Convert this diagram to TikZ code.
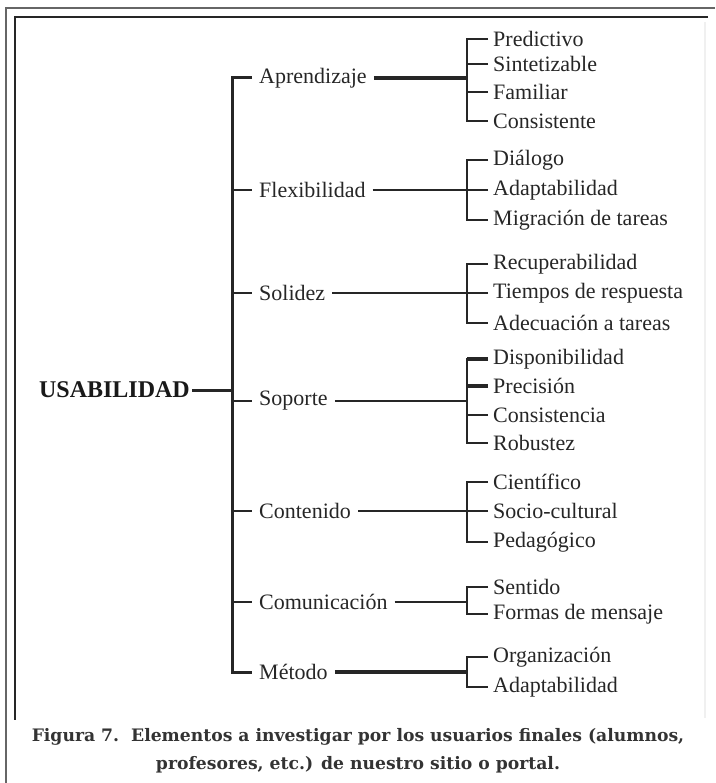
\documentclass[tikz,border=0pt]{standalone}
\usepackage{fontspec}
\setmainfont{Liberation Serif}
\newfontfamily\capfont{DejaVu Serif}
\begin{document}
\begin{tikzpicture}[x=1pt,y=-1pt,
  txt/.style={inner sep=0pt, inner xsep=5pt, anchor=west, text=black!85, font=\fontsize{22}{25}\selectfont},
  lone/.style={txt, inner xsep=7pt},
  leaf/.style={txt, inner xsep=5pt},
  root/.style={inner sep=0pt, inner xsep=2pt, anchor=east, text=black!90, font=\fontsize{24}{27}\selectfont\bfseries},
  ln/.style={draw=black!85, line width=2.6pt, line join=miter},
  thin/.style={draw=black!85, line width=2pt},
  thick/.style={draw=black!85, line width=3.3pt},
  frameout/.style={draw=black!60, line width=1.6pt},
  framein/.style={draw=black!85, line width=2pt},
  capt/.style={inner sep=0pt, text=black!80, font=\capfont\bfseries\fontsize{17.2}{28}\selectfont, align=center}
]
\useasboundingbox (0,0) rectangle (715,783);
% frames
\draw[frameout] (715,8) -- (6,8) -- (6,783);
\draw[framein] (708,17) -- (15,17) -- (15,720);
\draw[draw=black!6, line width=1.5pt] (705,22) -- (705,718);

% coordinates for trunk and bracket
\coordinate (tr) at (232,0);
\coordinate (bx) at (467,0);

% root
\node[root] (usa) at (192,390) {USABILIDAD};

% level 1
\node[lone] (apr) at (252,78) {Aprendizaje};
\node[lone] (fle) at (252,190) {Flexibilidad};
\node[lone] (sol) at (252,293) {Solidez};
\node[lone] (sop) at (252,401) {Soporte};
\node[lone] (con) at (252,511) {Contenido};
\node[lone] (com) at (252,602) {Comunicación};
\node[lone] (met) at (252,672) {Método};

% leaves
\node[leaf] (a1) at (488,39) {Predictivo};
\node[leaf] (a2) at (488,64) {Sintetizable};
\node[leaf] (a3) at (488,92) {Familiar};
\node[leaf] (a4) at (488,121) {Consistente};

\node[leaf] (f1) at (488,160) {Diálogo};
\node[leaf] (f2) at (488,190) {Adaptabilidad};
\node[leaf] (f3) at (488,220) {Migración de tareas};

\node[leaf] (s1) at (488,264) {Recuperabilidad};
\node[leaf] (s2) at (488,293) {Tiempos de respuesta};
\node[leaf] (s3) at (488,323) {Adecuación a tareas};

\node[leaf] (p1) at (488,359) {Disponibilidad};
\node[leaf] (p2) at (488,386) {Precisión};
\node[leaf] (p3) at (488,415) {Consistencia};
\node[leaf] (p4) at (488,443) {Robustez};

\node[leaf] (c1) at (488,482) {Científico};
\node[leaf] (c2) at (488,511) {Socio-cultural};
\node[leaf] (c3) at (488,542) {Pedagógico};

\node[leaf] (m1) at (488,587) {Sentido};
\node[leaf] (m2) at (488,614) {Formas de mensaje};

\node[leaf] (o1) at (488,657) {Organización};
\node[leaf] (o2) at (488,687) {Adaptabilidad};

% root connector and trunk
\draw[ln, line width=3pt] (usa.east) -- (usa.east -| tr);
\draw[ln, line width=3pt] (apr.west) -| (met.west -| tr) -- (met.west);
\foreach \n in {fle,sol,sop,con,com}
  \draw[ln] (\n.west -| tr) -- (\n.west);

% level1 to brackets
\draw[thick] (apr.east) -- (apr.east -| bx);
\draw[thin] (fle.east) -- (fle.east -| bx);
\draw[ln] (sol.east) -- (sol.east -| bx);
\draw[ln] (sop.east) -- (sop.east -| bx);
\draw[thin] (con.east) -- (con.east -| bx);
\draw[thin] (com.east) -- (com.east -| bx);
\draw[thick] (met.east) -- (met.east -| bx);

% brackets
\draw[ln] (a1.west) -| (a4.west -| bx) -- (a4.west);
\draw[ln] (a2.west) -- (a2.west -| bx);
\draw[ln] (a3.west) -- (a3.west -| bx);

\draw[ln] (f1.west) -| (f3.west -| bx) -- (f3.west);
\draw[ln] (f2.west) -- (f2.west -| bx);

\draw[ln] (s1.west) -| (s3.west -| bx) -- (s3.west);
\draw[ln] (s2.west) -- (s2.west -| bx);

\draw[ln] (p1.west) -| (p4.west -| bx) -- (p4.west);
\draw[thick] (p1.west) -- (p1.west -| bx);
\draw[thick] (p2.west) -- (p2.west -| bx);
\draw[ln] (p3.west) -- (p3.west -| bx);

\draw[ln] (c1.west) -| (c3.west -| bx) -- (c3.west);
\draw[ln] (c2.west) -- (c2.west -| bx);

\draw[ln] (m1.west) -| (m2.west -| bx) -- (m2.west);
\draw[ln] (o1.west) -| (o2.west -| bx) -- (o2.west);

% caption
\node[capt] (cap) at (358,751) {Figura 7.\ \ Elementos a investigar por los usuarios finales (alumnos,\\profesores, etc.) de nuestro sitio o portal.};
\end{tikzpicture}
\end{document}
